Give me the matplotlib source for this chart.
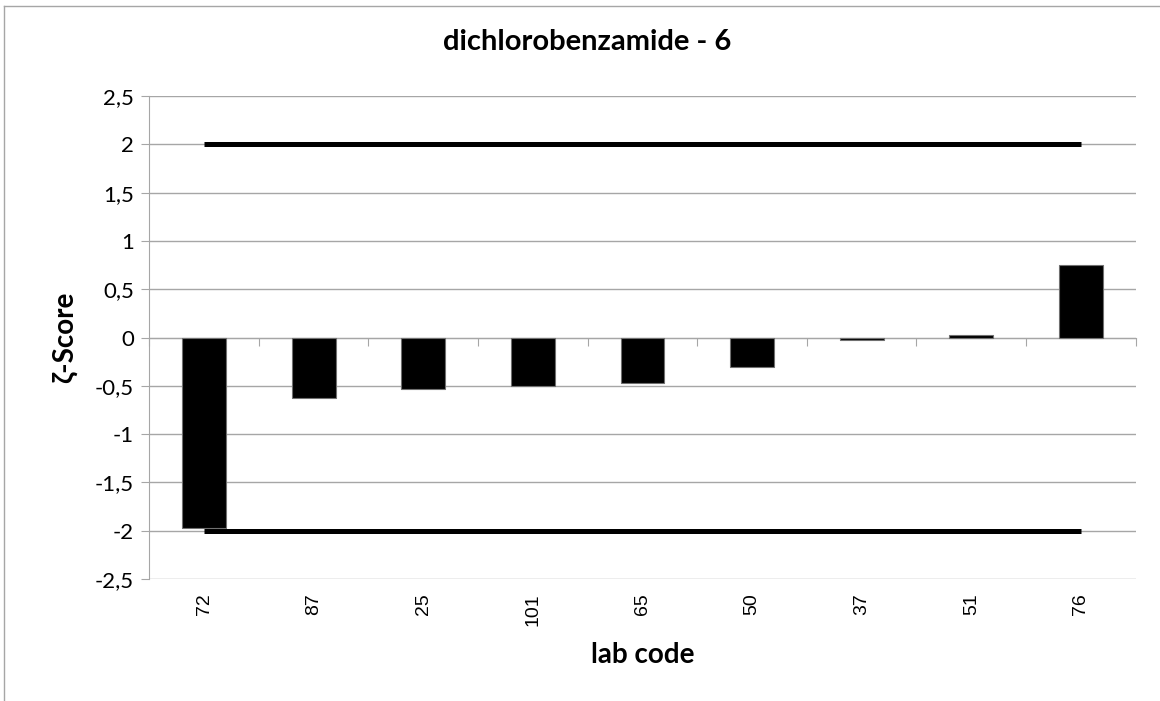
import matplotlib
matplotlib.use('Agg')
import matplotlib.pyplot as plt
from matplotlib.ticker import FuncFormatter, MultipleLocator
from matplotlib.lines import Line2D
import numpy as np

labs = ['72', '87', '25', '101', '65', '50', '37', '51', '76']
scores = [-1.97, -0.63, -0.53, -0.50, -0.47, -0.31, -0.03, 0.03, 0.75]
upper = [2, 2, 2, 2, 2, 2, 2, 2, 2]
lower = [-2, -2, -2, -2, -2, -2, -2, -2, -2]

plt.rcParams['font.family'] = ['Lato', 'DejaVu Sans']
grey = '#a6a6a6'

fig = plt.figure(figsize=(11.6, 7.01), dpi=100)
ax = fig.add_axes([0.1287, 0.174, 0.979 - 0.1287, 0.863 - 0.174])

x = np.arange(len(labs))
ax.bar(x, scores, width=0.4, color='black', edgecolor='#707070', linewidth=0.8, zorder=2)
ax.plot(x, upper, color='black', lw=3.6, solid_capstyle='butt', zorder=3)
ax.plot(x, lower, color='black', lw=3.6, solid_capstyle='butt', zorder=3)

ax.set_xlim(-0.5, len(labs) - 0.5)
ax.set_ylim(-2.5, 2.5)
ax.yaxis.set_major_locator(MultipleLocator(0.5))
ax.yaxis.set_major_formatter(FuncFormatter(lambda v, p: ('%g' % v).replace('.', ',')))
ax.grid(axis='y', color=grey, lw=1, zorder=0)
ax.set_axisbelow(True)

for s in ['top', 'right', 'bottom']:
    ax.spines[s].set_visible(False)
ax.spines['left'].set_color(grey)
ax.tick_params(axis='y', color=grey, length=6, labelsize=16, pad=5)
ax.tick_params(axis='x', length=0, pad=10)
ax.set_xticks(x)
ax.set_xticklabels(labs, rotation=90, fontsize=14, family='Liberation Sans')

# horizontal axis crossing at zero with ticks between categories
sec = ax.secondary_xaxis(0, transform=ax.transData)
sec.set_xticks(np.arange(len(labs) + 1) - 0.5)
sec.set_xticklabels([])
sec.spines['bottom'].set_color(grey)
sec.tick_params(axis='x', color=grey, length=6, direction='out')

fig.text(587 / 1160, 1 - 42 / 701, 'dichlorobenzamide - 6', fontsize=21,
         fontweight='bold', ha='center', va='center')
ax.set_xlabel('lab code', fontsize=20, fontweight='bold', labelpad=12)
ax.set_ylabel('ζ-Score', fontsize=20, fontweight='bold', labelpad=12)

# chart border
fig.add_artist(Line2D([4 / 1160, 1], [1 - 6 / 701, 1 - 6 / 701], color=grey, lw=1, transform=fig.transFigure))
fig.add_artist(Line2D([4 / 1160, 4 / 1160], [0, 1 - 6 / 701], color=grey, lw=1, transform=fig.transFigure))

fig.savefig('out.png', dpi=100)
